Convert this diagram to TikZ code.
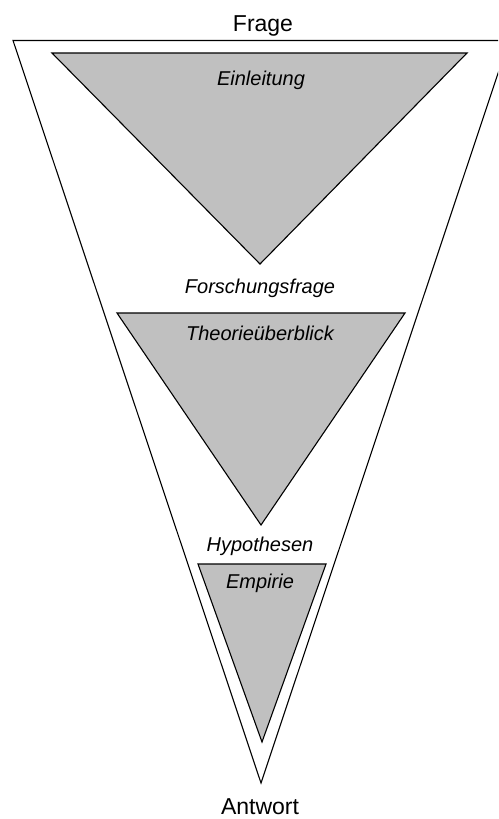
\documentclass[tikz,border=0pt]{standalone}
\usepackage{fontspec}
\setmainfont{Liberation Sans}
\definecolor{stagegray}{RGB}{192,192,192}

\begin{document}
\begin{tikzpicture}[x=1pt, y=-1pt,
    funnel/.style={draw=black, line width=1.1pt, line join=miter},
    stage/.style={funnel, fill=stagegray},
    endtext/.style={anchor=base, inner sep=0pt, font=\fontsize{23}{27}\selectfont},
    phase/.style={anchor=base, inner sep=0pt, font=\fontsize{20}{24}\selectfont\itshape}]
    \useasboundingbox (0,0) rectangle (498,819);
    \clip (0,0) rectangle (498,819);

    % outer funnel and the three stages
    \draw[funnel, fill=white] (13,40.5) -- (509,40.5) -- (261,783) -- cycle;
    \draw[stage] (52,53) -- (467,53) -- (260,264) -- cycle;
    \draw[stage] (117,313) -- (405,313) -- (261,525) -- cycle;
    \draw[stage] (198,564) -- (326,564) -- (262,742) -- cycle;

    \node[endtext] (frage) at (263,31.7) {Frage};
    \node[phase] (einleitung) at (261,85) {Einleitung};
    \node[phase] (forschungsfrage) at (260,293) {Forschungsfrage};
    \node[phase] (theorie) at (260,340.5) {Theorieüberblick};
    \node[phase] (hypothesen) at (260,551.7) {Hypothesen};
    \node[phase] (empirie) at (260,588) {Empirie};
    \node[endtext] (antwort) at (260,814.5) {Antwort};
\end{tikzpicture}
\end{document}
